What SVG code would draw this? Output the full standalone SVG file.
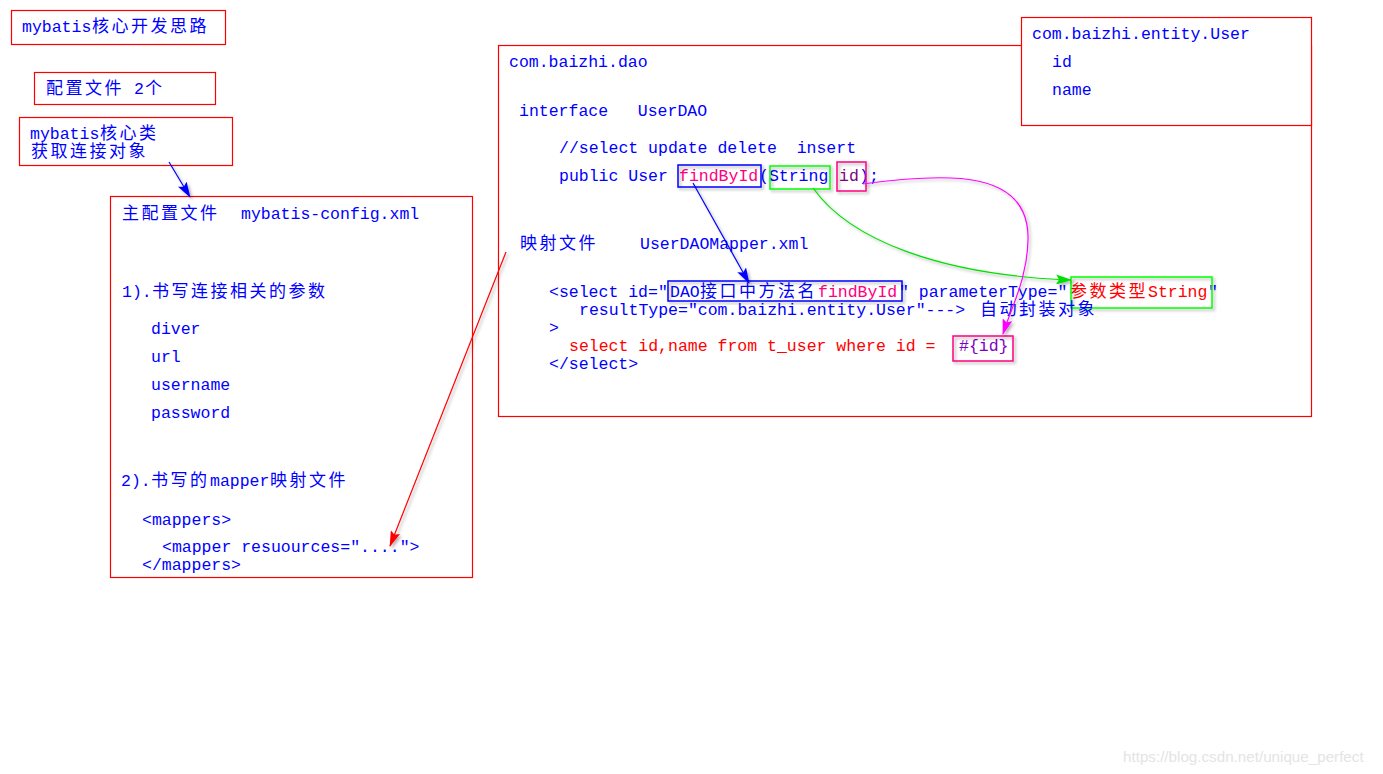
<svg xmlns="http://www.w3.org/2000/svg" width="1383" height="774" viewBox="0 0 1383 774" xml:space="preserve">
<style>
.bg{fill:#ffffff}
.box{fill:#ffffff;stroke:#ff0000;stroke-width:1.2}
.t{font-family:"Liberation Mono","Noto Sans CJK SC",monospace;font-size:16.5px;fill:#0000ff;white-space:pre}
.c{font-family:"Noto Sans CJK SC","Liberation Sans",sans-serif;font-size:17px;letter-spacing:2.5px}
.red{fill:#ff0000}
.pink{fill:#ff0080}
.purp{fill:#800080}
.vio{fill:#8000c0}
.hb{fill:none;stroke:#0000ff;stroke-width:1.5}
.hg{fill:none;stroke:#00ff00;stroke-width:1.5}
.hp{fill:none;stroke:#ff0080;stroke-width:1.5}
.wm{font-family:"Liberation Sans",sans-serif;font-size:15.2px;fill:#e4e4e4}
</style>
<defs>
<filter id="sh" x="-20%" y="-20%" width="140%" height="140%">
<feDropShadow dx="2" dy="2" stdDeviation="1.5" flood-color="#000000" flood-opacity="0.3"/>
</filter>
<marker id="ab" viewBox="0 0 16 10" refX="15" refY="5" markerWidth="16" markerHeight="10" markerUnits="userSpaceOnUse" orient="auto"><path d="M0,0 L16,5 L0,10 L3,5 Z" fill="#0000ff"/></marker>
<marker id="ar" viewBox="0 0 16 10" refX="15" refY="5" markerWidth="16" markerHeight="10" markerUnits="userSpaceOnUse" orient="auto"><path d="M0,0 L16,5 L0,10 L3,5 Z" fill="#ff0000"/></marker>
<marker id="ag" viewBox="0 0 16 10" refX="15" refY="5" markerWidth="16" markerHeight="10" markerUnits="userSpaceOnUse" orient="auto"><path d="M0,0 L16,5 L0,10 L3,5 Z" fill="#00e000"/></marker>
<marker id="am" viewBox="0 0 16 10" refX="15" refY="5" markerWidth="16" markerHeight="10" markerUnits="userSpaceOnUse" orient="auto"><path d="M0,0 L16,5 L0,10 L3,5 Z" fill="#ff00ff"/></marker>
</defs>
<rect class="bg" x="0" y="0" width="1383" height="774"/>
<g id="title"><rect class="box" x="11.5" y="10.5" width="214" height="34"/><text class="t" x="22" y="32">mybatis<tspan class="c" x="92">核心开发思路</tspan></text></g>
<g id="config-count"><rect class="box" x="34.5" y="72.5" width="181" height="32"/><text class="t" y="94"><tspan class="c" x="46">配置文件</tspan><tspan x="124"> 2</tspan><tspan class="c" x="145">个</tspan></text></g>
<g id="core-class"><rect class="box" x="19.5" y="117.5" width="213" height="48"/><text class="t" x="30" y="139">mybatis<tspan class="c" x="100">核心类</tspan></text><text class="t" y="157"><tspan class="c" x="31">获取连接对象</tspan></text></g>
<g id="main-config"><rect class="box" x="110.5" y="196.5" width="362" height="381"/><text class="t" y="219"><tspan class="c" x="122">主配置文件</tspan><tspan x="241">mybatis-config.xml</tspan></text><text class="t" x="122" y="297">1).<tspan class="c" x="152">书写连接相关的参数</tspan></text><text class="t" x="151" y="334">diver</text><text class="t" x="151" y="362">url</text><text class="t" x="151" y="390">username</text><text class="t" x="151" y="418">password</text><text class="t" x="121" y="486">2).<tspan class="c" x="151">书写的</tspan><tspan x="210">mapper</tspan><tspan class="c" x="270">映射文件</tspan></text><text class="t" x="142" y="525">&lt;mappers&gt;</text><text class="t" x="162" y="552">&lt;mapper resuources="...."&gt;</text><text class="t" x="142" y="570">&lt;/mappers&gt;</text></g>
<g id="dao"><rect class="box" x="498.5" y="45.5" width="813" height="371"/><text class="t" x="509" y="67">com.baizhi.dao</text><text class="t" x="519" y="116">interface   UserDAO</text><text class="t" x="559" y="153">//select update delete  insert</text><text class="t" x="559" y="181">public User <tspan class="pink" x="679">findById</tspan><tspan x="759">(String </tspan><tspan class="purp" x="839">id</tspan><tspan x="859">);</tspan></text><rect class="hb" x="678" y="165" width="83" height="22" filter="url(#sh)"/><rect class="hg" x="770" y="166" width="60" height="23" filter="url(#sh)"/><rect class="hp" x="837" y="162" width="29" height="29" filter="url(#sh)"/><text class="t" y="249"><tspan class="c" x="520">映射文件</tspan><tspan x="640">UserDAOMapper.xml</tspan></text><text class="t" x="549" y="297">&lt;select id="<tspan x="670">DAO</tspan><tspan class="c" x="700">接口中方法名</tspan><tspan class="pink" x="818">findById</tspan><tspan x="899">" parameterType="</tspan><tspan class="c red" x="1070">参数类型</tspan><tspan class="red" x="1148">String</tspan><tspan x="1208">"</tspan></text><rect class="hb" x="668" y="281" width="234" height="20" filter="url(#sh)"/><rect class="hg" x="1071" y="277" width="141" height="31" filter="url(#sh)"/><text class="t" x="579" y="315">resultType="com.baizhi.entity.User"---&gt; <tspan class="c" x="980">自动封装对象</tspan></text><text class="t" x="549" y="333">&gt;</text><text class="t red" x="569" y="351">select id,name from t_user where id = </text><text class="t vio" x="959" y="351">#{id}</text><rect class="hp" x="953" y="336" width="60" height="25" filter="url(#sh)"/><text class="t" x="549" y="369">&lt;/select&gt;</text></g>
<g id="user"><rect class="box" x="1021.5" y="17.5" width="290" height="108"/><text class="t" x="1032" y="39">com.baizhi.entity.User</text><text class="t" x="1052" y="67">id</text><text class="t" x="1052" y="95">name</text></g>
<g id="connectors" fill="none" filter="url(#sh)"><path d="M169,162 L190,197" stroke="#0000ff" stroke-width="1.2" marker-end="url(#ab)"/><path d="M506,252 L390,546" stroke="#ff0000" stroke-width="1.2" marker-end="url(#ar)"/><path d="M693,183 L749,283" stroke="#0000ff" stroke-width="1.2" marker-end="url(#ab)"/><path d="M813,188 C850,240 940,275 1071,280" stroke="#00e000" stroke-width="1.2" marker-end="url(#ag)"/><path d="M863,184 C950,172 1030,170 1028,240 C1027,280 1012,305 1003,334" stroke="#ff00ff" stroke-width="1.2" marker-end="url(#am)"/></g>
<text class="wm" x="1123" y="762">https://blog.csdn.net/unique_perfect</text>
</svg>
